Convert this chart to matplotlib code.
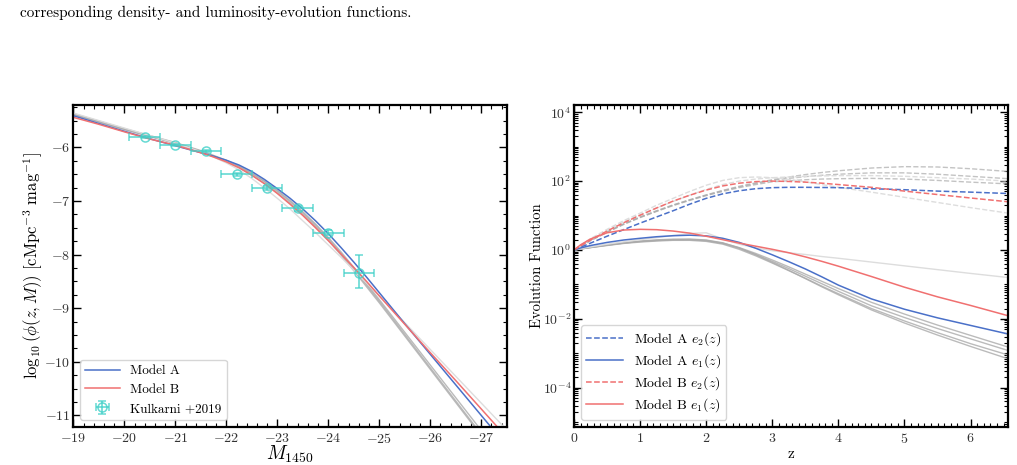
import matplotlib
matplotlib.use("Agg")
import matplotlib.pyplot as plt
import numpy as np
from matplotlib.ticker import MultipleLocator, LogLocator, NullFormatter, FixedLocator

plt.rcParams['font.family'] = 'serif'
plt.rcParams['font.serif'] = ['cmr10', 'DejaVu Serif']
plt.rcParams['mathtext.fontset'] = 'cm'
plt.rcParams['axes.formatter.use_mathtext'] = True
plt.rcParams['axes.unicode_minus'] = True

# ---- left panel: luminosity function (log10 phi) ----
M_grid = [-19, -19.5, -20, -20.5, -21, -21.5, -21.75, -22, -22.25, -22.5, -22.75, -23,
          -23.25, -23.5, -23.75, -24, -24.25, -24.5, -24.75, -25, -25.5, -26, -26.5, -27, -27.5]
phi_A = [-5.41, -5.555, -5.70, -5.84, -5.97, -6.10, -6.165, -6.24, -6.33, -6.45, -6.60, -6.77,
         -6.95, -7.15, -7.37, -7.61, -7.87, -8.14, -8.42, -8.71, -9.29, -9.86, -10.43, -11.00, -11.57]
phi_B = [-5.44, -5.57, -5.71, -5.845, -5.96, -6.10, -6.18, -6.27, -6.38, -6.52, -6.68, -6.86,
         -7.06, -7.27, -7.50, -7.74, -7.99, -8.24, -8.50, -8.77, -9.30, -9.83, -10.35, -10.88, -11.41]
phi_gray = [
    [-5.38, -5.52, -5.66, -5.79, -5.92, -6.07, -6.16, -6.25, -6.36, -6.49, -6.64, -6.82,
     -7.01, -7.22, -7.45, -7.70, -7.98, -8.27, -8.57, -8.87, -9.49, -10.11, -10.73, -11.35, -11.97],
    [-5.37, -5.51, -5.65, -5.78, -5.91, -6.06, -6.15, -6.24, -6.35, -6.48, -6.63, -6.80,
     -6.99, -7.20, -7.43, -7.68, -7.95, -8.24, -8.54, -8.84, -9.45, -10.06, -10.67, -11.28, -11.89],
    [-5.39, -5.53, -5.67, -5.80, -5.93, -6.08, -6.17, -6.27, -6.38, -6.52, -6.67, -6.85,
     -7.04, -7.25, -7.48, -7.73, -8.01, -8.30, -8.60, -8.90, -9.52, -10.14, -10.76, -11.38, -12.00],
]
phi_light = [-5.36, -5.50, -5.64, -5.78, -5.92, -6.08, -6.18, -6.29, -6.42, -6.58, -6.76, -6.95,
             -7.15, -7.37, -7.59, -7.82, -8.05, -8.29, -8.53, -8.77, -9.27, -9.77, -10.27, -10.77, -11.27]

kul_M = [-20.4, -21.0, -21.6, -22.2, -22.8, -23.4, -24.0, -24.6]
kul_phi = [-5.80, -5.96, -6.07, -6.50, -6.76, -7.14, -7.59, -8.34]
kul_xerr = [0.3, 0.3, 0.3, 0.3, 0.3, 0.3, 0.3, 0.3]
kul_yerr_lo = [0.02, 0.02, 0.02, 0.03, 0.03, 0.04, 0.05, 0.29]
kul_yerr_hi = [0.02, 0.02, 0.02, 0.03, 0.03, 0.04, 0.05, 0.33]

# ---- right panel: evolution functions (log10 values) ----
z_grid = [0, 0.1, 0.25, 0.5, 0.75, 1.0, 1.25, 1.5, 1.75, 2.0, 2.25, 2.5, 2.75, 3.0,
          3.25, 3.5, 3.75, 4.0, 4.5, 5.0, 5.5, 6.0, 6.57]
logA_e2 = [0, 0.08, 0.20, 0.40, 0.59, 0.78, 0.96, 1.14, 1.33, 1.50, 1.63, 1.72, 1.78, 1.81,
           1.82, 1.82, 1.815, 1.81, 1.78, 1.75, 1.71, 1.68, 1.64]
logB_e2 = [0, 0.12, 0.29, 0.55, 0.79, 1.01, 1.22, 1.42, 1.59, 1.74, 1.86, 1.94, 1.985, 2.0,
           1.99, 1.97, 1.94, 1.90, 1.82, 1.71, 1.61, 1.51, 1.40]
logA_e1 = [0, 0.06, 0.13, 0.22, 0.29, 0.34, 0.385, 0.415, 0.43, 0.41, 0.34, 0.22, 0.05, -0.14,
           -0.34, -0.55, -0.78, -1.02, -1.42, -1.72, -1.97, -2.19, -2.44]
logB_e1 = [0, 0.15, 0.32, 0.50, 0.58, 0.60, 0.59, 0.55, 0.49, 0.40, 0.30, 0.20, 0.11, 0.02,
           -0.08, -0.20, -0.33, -0.47, -0.77, -1.08, -1.36, -1.61, -1.91]
loggray_e2 = [
    [0, 0.12, 0.28, 0.53, 0.76, 0.96, 1.14, 1.31, 1.46, 1.60, 1.73, 1.85, 1.95, 2.04,
     2.12, 2.19, 2.25, 2.30, 2.38, 2.42, 2.41, 2.36, 2.28],
    [0, 0.12, 0.28, 0.52, 0.75, 0.95, 1.13, 1.30, 1.45, 1.59, 1.72, 1.83, 1.93, 2.02,
     2.08, 2.13, 2.17, 2.20, 2.24, 2.24, 2.20, 2.14, 2.07],
    [0, 0.11, 0.27, 0.51, 0.74, 0.94, 1.12, 1.29, 1.44, 1.58, 1.70, 1.81, 1.90, 1.98,
     2.01, 2.04, 2.06, 2.07, 2.08, 2.06, 2.02, 1.97, 1.92],
]
loglight_e2 = [
    [0, 0.14, 0.33, 0.60, 0.85, 1.07, 1.30, 1.50, 1.70, 1.88, 2.02, 2.10, 2.12, 2.10,
     2.05, 1.98, 1.90, 1.82, 1.68, 1.53, 1.38, 1.23, 1.07],
    [0, 0.13, 0.30, 0.57, 0.81, 1.02, 1.22, 1.41, 1.59, 1.76, 1.90, 2.00, 2.06, 2.10,
     2.12, 2.14, 2.15, 2.16, 2.16, 2.14, 2.10, 2.06, 2.00],
]
loggray_e1 = [
    [0, 0.03, 0.07, 0.14, 0.20, 0.25, 0.28, 0.30, 0.30, 0.27, 0.19, 0.05, -0.13, -0.33,
     -0.54, -0.76, -0.98, -1.20, -1.62, -1.96, -2.28, -2.58, -2.92],
    [0, 0.03, 0.07, 0.13, 0.19, 0.23, 0.26, 0.28, 0.28, 0.25, 0.17, 0.02, -0.17, -0.38,
     -0.60, -0.82, -1.05, -1.27, -1.70, -2.06, -2.40, -2.72, -3.05],
    [0, 0.035, 0.08, 0.15, 0.21, 0.26, 0.295, 0.315, 0.32, 0.29, 0.21, 0.06, -0.14, -0.36,
     -0.59, -0.83, -1.07, -1.30, -1.74, -2.12, -2.47, -2.80, -3.16],
    [0, 0.03, 0.075, 0.14, 0.20, 0.245, 0.275, 0.295, 0.30, 0.28, 0.20, 0.07, -0.10, -0.29,
     -0.49, -0.70, -0.91, -1.12, -1.52, -1.86, -2.18, -2.48, -2.82],
]
loglight_e1 = [0, 0.04, 0.09, 0.17, 0.24, 0.30, 0.36, 0.42, 0.48, 0.50, 0.32, 0.17, 0.06, -0.02,
               -0.08, -0.13, -0.19, -0.24, -0.35, -0.46, -0.57, -0.68, -0.80]

blue = '#4a70c8'
red = '#f07070'
cyan = '#40d0c8'

fig = plt.figure(figsize=(10.17, 4.65), dpi=100)
fig.text(0.02, 0.988, 'corresponding density- and luminosity-evolution functions.',
         fontsize=11, va='top', ha='left')

ax1 = fig.add_axes([0.0721, 0.0824, 0.4262, 0.6918])
ax2 = fig.add_axes([0.5644, 0.0824, 0.4270, 0.6918])

for g in phi_gray:
    ax1.plot(M_grid, g, color='#aaaaaa', lw=1.0, alpha=0.8)
ax1.plot(M_grid, phi_light, color='#dddddd', lw=1.0)
ax1.plot(M_grid, phi_A, color=blue, lw=1.1, label='Model A')
ax1.plot(M_grid, phi_B, color=red, lw=1.1, label='Model B')
ax1.errorbar(kul_M, kul_phi, xerr=kul_xerr, yerr=[kul_yerr_lo, kul_yerr_hi],
             fmt='o', mfc='none', mec=cyan, ecolor=cyan, ms=6.5, mew=1.1,
             elinewidth=1.2, capsize=3, alpha=0.8, label='Kulkarni +2019')
ax1.set_xlim(-19, -27.5)
ax1.set_ylim(-11.21, -5.21)
ax1.xaxis.set_major_locator(MultipleLocator(1))
ax1.xaxis.set_minor_locator(MultipleLocator(0.2))
ax1.yaxis.set_major_locator(MultipleLocator(1))
ax1.yaxis.set_minor_locator(MultipleLocator(0.25))
ax1.set_xlabel(r'$M_{1450}$', fontsize=14, labelpad=-1)
ax1.set_ylabel(r'$\log_{10}(\phi(z,M))\ [\mathrm{cMpc}^{-3}\ \mathrm{mag}^{-1}]$', fontsize=12)
ax1.yaxis.set_label_coords(-0.066, 0.5)
ax1.legend(loc='lower left', fontsize=9.5, handlelength=2.6, borderaxespad=0.5)

for g in loggray_e2:
    ax2.plot(z_grid, np.power(10.0, g), color='#aaaaaa', lw=1.0, ls='--', alpha=0.7)
for g in loglight_e2:
    ax2.plot(z_grid, np.power(10.0, g), color='#dddddd', lw=1.0, ls='--')
for g in loggray_e1:
    ax2.plot(z_grid, np.power(10.0, g), color='#aaaaaa', lw=1.0, alpha=0.8)
ax2.plot(z_grid, np.power(10.0, loglight_e1), color='#dddddd', lw=1.0)
ax2.plot(z_grid, np.power(10.0, logA_e2), color=blue, lw=1.1, ls='--', label=r'Model A $e_2(z)$')
ax2.plot(z_grid, np.power(10.0, logA_e1), color=blue, lw=1.1, label=r'Model A $e_1(z)$')
ax2.plot(z_grid, np.power(10.0, logB_e2), color=red, lw=1.1, ls='--', label=r'Model B $e_2(z)$')
ax2.plot(z_grid, np.power(10.0, logB_e1), color=red, lw=1.1, label=r'Model B $e_1(z)$')
ax2.set_yscale('log')
ax2.set_xlim(0, 6.57)
ax2.set_ylim(10 ** -5.13, 10 ** 4.21)
ax2.xaxis.set_major_locator(MultipleLocator(1))
ax2.xaxis.set_minor_locator(MultipleLocator(0.1))
ax2.yaxis.set_major_locator(FixedLocator([1e-4, 1e-2, 1, 1e2, 1e4]))
ax2.yaxis.set_minor_locator(LogLocator(base=10, subs=np.arange(1, 10), numticks=30))
ax2.yaxis.set_minor_formatter(NullFormatter())
ax2.set_xlabel('z', fontsize=11, labelpad=1)
ax2.set_ylabel('Evolution Function', fontsize=10.5)
ax2.yaxis.set_label_coords(-0.07, 0.5)
ax2.legend(loc='lower left', fontsize=10, handlelength=2.6, labelspacing=0.3,
           borderaxespad=0.5)

for ax in (ax1, ax2):
    ax.tick_params(which='both', direction='in', top=True, right=True, labelsize=10, colors='#333333')
    ax.tick_params(which='major', length=6, width=1.0, color='k')
    ax.tick_params(which='minor', length=3, width=0.8, color='k')
    ax.tick_params(axis='y', which='both', pad=2)
    for s in ax.spines.values():
        s.set_linewidth(1.6)

fig.savefig('out.png', dpi=100)
